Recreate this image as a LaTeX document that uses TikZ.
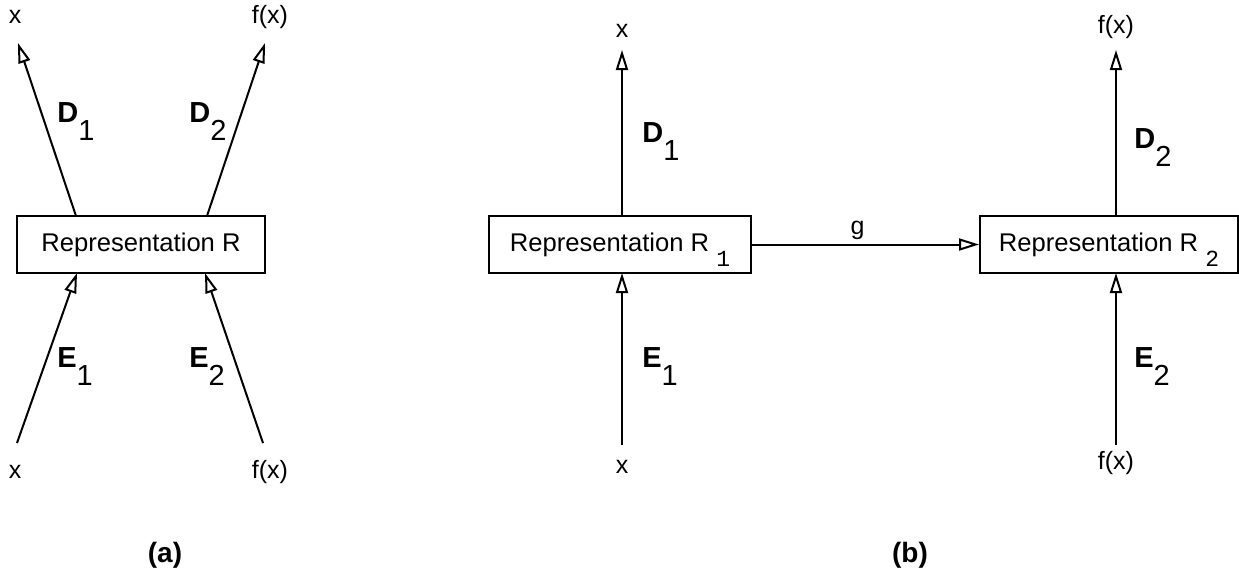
\documentclass[tikz,border=0pt]{standalone}
\usepackage{fontspec}
\setmainfont{Liberation Sans}
\setmonofont{Liberation Mono}
\usetikzlibrary{arrows.meta}

% lowered index after a bold letter
\newcommand{\lowidx}[1]{\raisebox{-9pt}{\mdseries #1}}
% lowered index inside a box (kept out of the box height)
\newcommand{\boxidx}[1]{\raisebox{-7.5pt}[0pt][0pt]{\fontsize{11.5}{12}\ttfamily #1}}

\begin{document}
\begin{tikzpicture}[
  x=0.5pt, y=-0.5pt,
  repbox/.style={rectangle, draw, line width=1pt, minimum height=28.5pt, inner sep=0pt, font=\fontsize{12.8}{15}\selectfont},
  val/.style={font=\fontsize{12.5}{15}\selectfont, inner sep=0pt},
  lbl/.style={font=\fontsize{14.5}{17}\selectfont\bfseries, inner sep=0pt, anchor=base west},
  caption/.style={font=\fontsize{14}{16}\selectfont\bfseries, inner sep=0pt},
  arrow/.style={-{Triangle[open, length=10pt, width=6pt]}, line width=1pt}
]
  \useasboundingbox (0,0) rectangle (1239,586);

  % (a) one representation
  \node[repbox, minimum width=124pt] (rep) at (141,244.5) {Representation R};

  \node[val] (xa) at (15,17) {x};
  \node[val] (fxa) at (270,17) {f(x)};
  \node[val] (xb) at (15,472) {x};
  \node[val] (fxb) at (270,472) {f(x)};

  \coordinate (d1s) at (76,216);
  \coordinate (d1e) at (18,43);
  \coordinate (d2s) at (207,216);
  \coordinate (d2e) at (265,43);
  \coordinate (e1s) at (17,443);
  \coordinate (e1e) at (77,273);
  \coordinate (e2s) at (263,443);
  \coordinate (e2e) at (205,273);

  \draw[arrow] (d1s) -- (d1e);
  \draw[arrow] (d2s) -- (d2e);
  \draw[arrow] (e1s) -- (e1e);
  \draw[arrow] (e2s) -- (e2e);

  \node[lbl] (d1) at (57,122) {D\lowidx{1}};
  \node[lbl] (d2) at (189,122) {D\lowidx{2}};
  \node[lbl] (e1) at (57,367) {E\lowidx{1}};
  \node[lbl] (e2) at (189,367) {E\lowidx{2}};

  \node[caption] (capa) at (165,555) {(a)};

  % (b) two representations linked by g
  \node[repbox, minimum width=131pt] (rep1) at (620,244.5) {Representation R \boxidx{1}};
  \node[repbox, minimum width=129pt] (rep2) at (1109,244.5) {Representation R \boxidx{2}};

  \node[val] (xc) at (622,31) {x};
  \node[val] (xd) at (622,467) {x};
  \node[val] (fxc) at (1116,27) {f(x)};
  \node[val] (fxd) at (1116,463) {f(x)};

  \coordinate (u1s) at (622,216);
  \coordinate (u1e) at (622,50);
  \coordinate (b1s) at (622,445);
  \coordinate (b1e) at (622,273);
  \coordinate (u2s) at (1116,216);
  \coordinate (u2e) at (1116,50);
  \coordinate (b2s) at (1116,445);
  \coordinate (b2e) at (1116,273);

  \draw[arrow] (u1s) -- (u1e);
  \draw[arrow] (b1s) -- (b1e);
  \draw[arrow] (u2s) -- (u2e);
  \draw[arrow] (b2s) -- (b2e);

  \draw[arrow] (rep1.east) -- (rep2.west) node[val, midway, above=2pt, xshift=-4pt] (g) {g};

  \node[lbl] (d3) at (642,142) {D\lowidx{1}};
  \node[lbl] (e3) at (642,367) {E\lowidx{1}};
  \node[lbl] (d4) at (1134,148) {D\lowidx{2}};
  \node[lbl] (e4) at (1134,367) {E\lowidx{2}};

  \node[caption] (capb) at (910,555) {(b)};
\end{tikzpicture}
\end{document}
